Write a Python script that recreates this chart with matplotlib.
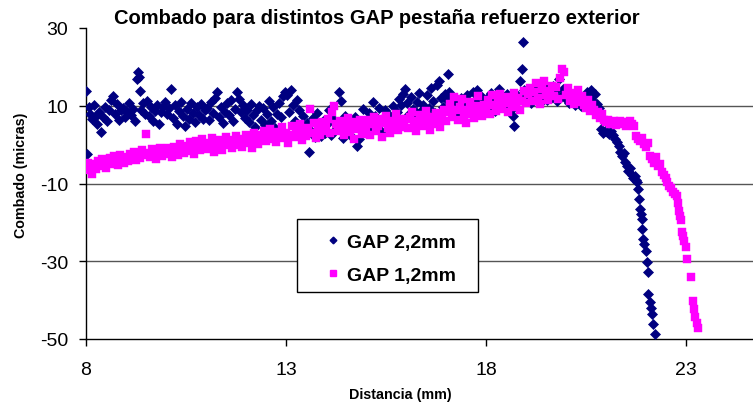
import matplotlib
matplotlib.use("Agg")
import matplotlib.pyplot as plt
from matplotlib.lines import Line2D
from matplotlib.patches import Rectangle

plt.rcParams['font.family'] = ['Liberation Sans', 'DejaVu Sans']

title = "Combado para distintos GAP pestaña refuerzo exterior"
xlabel = "Distancia (mm)"
ylabel = "Combado (micras)"
series_names = ["GAP 2,2mm", "GAP 1,2mm"]
xticks = [8, 13, 18, 23]
yticks = [-50, -30, -10, 10, 30]

# GAP 2,2mm (navy diamonds)
gap22_x = [
    8.00, 8.03, 8.07, 8.11, 8.15, 8.19, 8.23, 8.28, 8.33, 8.38, 8.43, 8.48, 8.53, 8.58, 8.63, 8.68, 8.73, 8.78, 8.83, 8.88, 8.93, 8.98,
    9.03, 9.08, 9.13, 9.18, 9.23, 9.28, 9.30, 9.32, 9.35, 9.38, 9.43, 9.48, 9.53, 9.58, 9.63, 9.68, 9.73, 9.78, 9.83, 9.88, 9.93, 9.98,
    10.03, 10.08, 10.13, 10.18, 10.23, 10.28, 10.33, 10.38, 10.43, 10.48, 10.53, 10.58, 10.63, 10.68, 10.73, 10.78, 10.83, 10.88, 10.93, 10.98,
    11.03, 11.08, 11.13, 11.18, 11.23, 11.28, 11.33, 11.38, 11.43, 11.48, 11.53, 11.58, 11.63, 11.68, 11.73, 11.78, 11.83, 11.88, 11.93, 11.98,
    12.03, 12.08, 12.13, 12.18, 12.23, 12.28, 12.33, 12.38, 12.43, 12.48, 12.53, 12.58, 12.63, 12.68, 12.73, 12.78, 12.83, 12.88, 12.93, 12.98,
    13.03, 13.08, 13.13, 13.18, 13.23, 13.28, 13.33, 13.38, 13.43, 13.48, 13.53, 13.58, 13.63, 13.68, 13.73, 13.78, 13.83, 13.88, 13.93, 13.98,
    14.03, 14.08, 14.13, 14.18, 14.23, 14.28, 14.33, 14.38, 14.43, 14.48, 14.53, 14.58, 14.63, 14.68, 14.73, 14.78, 14.83, 14.88, 14.93, 14.98,
    15.03, 15.08, 15.13, 15.18, 15.23, 15.28, 15.33, 15.38, 15.43, 15.48, 15.53, 15.58, 15.63, 15.68, 15.73, 15.78, 15.83, 15.88, 15.93, 15.98,
    16.03, 16.08, 16.13, 16.18, 16.23, 16.28, 16.33, 16.38, 16.43, 16.48, 16.53, 16.58, 16.63, 16.68, 16.73, 16.78, 16.83, 16.88, 16.93, 16.98,
    17.03, 17.05, 17.08, 17.13, 17.18, 17.23, 17.28, 17.33, 17.38, 17.43, 17.48, 17.53, 17.58, 17.63, 17.68, 17.73, 17.78, 17.83, 17.88, 17.93, 17.98,
    18.03, 18.08, 18.13, 18.18, 18.23, 18.28, 18.33, 18.38, 18.43, 18.48, 18.53, 18.58, 18.63, 18.68, 18.70, 18.73, 18.78, 18.83, 18.86, 18.89, 18.92, 18.95, 18.98,
    19.03, 19.08, 19.13, 19.18, 19.23, 19.28, 19.33, 19.38, 19.43, 19.48, 19.53, 19.58, 19.63, 19.68, 19.73, 19.78, 19.83, 19.88, 19.93, 19.98,
    20.03, 20.08, 20.13, 20.18, 20.23, 20.28, 20.33, 20.38, 20.43, 20.48, 20.53, 20.58, 20.63, 20.68, 20.73, 20.78, 20.83, 20.88, 20.93, 20.98,
    21.03, 21.08, 21.13, 21.18, 21.23, 21.28, 21.32, 21.36, 21.40, 21.44, 21.48, 21.52, 21.56, 21.60, 21.64, 21.68, 21.72, 21.76, 21.78, 21.81,
    21.83, 21.85, 21.88, 21.90, 21.91, 21.93, 21.96, 22.00, 22.03, 22.05, 22.06, 22.10, 22.13, 22.15, 22.18, 22.23,
]
gap22_y = [
    13.8, -2.4, 9.8, 8.0, 6.5, 10.2, 7.2, 5.3, 8.4, 3.2, 7.0, 9.6, 6.1, 8.8, 11.5, 12.6, 7.8, 10.5, 6.3, 8.9, 9.5, 7.1,
    8.5, 10.8, 7.6, 9.2, 6.0, 16.9, 18.7, 17.5, 13.8, 9.0, 10.6, 8.0, 11.2, 7.4, 9.8, 6.2, 8.7, 10.1, 5.4, 8.3, 9.6, 11.0,
    7.9, 9.4, 14.3, 6.8, 10.3, 5.2, 8.6, 11.0, 7.3, 4.9, 9.1, 6.7, 10.8, 8.2, 5.9, 9.7, 7.5, 10.4, 6.6, 8.9,
    9.5, 6.3, 10.9, 8.1, 12.0, 13.5, 7.0, 9.8, 5.6, 8.5, 10.6, 7.7, 11.4, 6.0, 9.2, 13.5, 11.7, 8.4, 10.2, 6.9,
    9.0, 5.8, 10.5, 7.6, 4.6, 8.9, 10.0, 6.4, 9.3, 5.0, 7.8, 11.1, 6.1, 9.6, 4.2, 8.0, 10.7, 7.2, 12.4, 13.5,
    12.8, 8.5, 14.0, 10.3, 6.2, 11.6, 9.0, 4.4, 7.3, 2.8, 5.6, -2.0, 3.5, 6.9, 1.9, 8.1, 4.7, 2.3, 6.0, 3.1,
    5.2, 8.9, 2.6, 6.5, 3.8, 4.9, 13.5, 11.2, 1.7, 7.4, 3.0, 5.8, 2.1, 6.3, 7.1, -0.3, 1.5, 4.3, 9.2, 3.4,
    6.0, 8.2, 4.5, 11.0, 7.3, 5.1, 9.4, 3.6, 6.8, 8.9, 5.5, 7.7, 4.0, 9.9, 6.4, 8.5, 11.8, 10.3, 13.0, 14.3,
    10.8, 8.0, 12.2, 9.1, 7.5, 11.0, 13.2, 8.6, 10.1, 6.9, 12.7, 9.5, 14.6, 11.3, 8.2, 15.4, 16.4, 12.0, 9.8, 13.1,
    11.4, 18.2, 13.6, 9.0, 12.3, 7.8, 10.6, 8.4, 11.9, 6.7, 9.7, 12.8, 10.2, 7.9, 13.5, 11.1, 14.0, 9.3, 12.6, 10.4, 8.8,
    12.1, 9.6, 13.4, 10.8, 8.7, 11.7, 14.2, 10.0, 12.5, 9.3, 13.0, 11.3, 8.9, 7.4, 4.8, 10.6, 12.8, 11.5, 16.4, 19.5, 26.4, 14.0, 12.0,
    11.2, 13.5, 10.6, 12.4, 14.1, 11.8, 13.0, 10.9, 12.7, 14.8, 11.5, 13.2, 12.0, 15.1, 13.7, 11.1, 16.9, 12.6, 14.4, 11.9,
    13.3, 10.8, 12.2, 11.0, 10.2, 12.6, 11.4, 10.0, 11.9, 12.8, 13.6, 12.4, 14.0, 11.3, 12.9, 10.5, 9.5, 4.0, 3.0, 3.6,
    3.2, 2.8, 3.6, 2.5, 1.4, 0.6, -0.4, -1.8, -3.0, -2.2, -4.5, -5.5, -6.8, -6.1, -7.7, -8.6, -8.0, -9.2, -9.6, -11.5,
    -14.0, -16.6, -17.8, -19.1, -21.7, -24.3, -25.6, -27.4, -30.2, -32.8, -38.4, -40.5, -42.1, -43.6, -46.1, -48.7,
]

# GAP 1,2mm (magenta squares)
gap12_x = [
    8.00, 8.05, 8.10, 8.15, 8.20, 8.25, 8.30, 8.35, 8.40, 8.45, 8.50, 8.55, 8.60, 8.65, 8.70, 8.75, 8.80, 8.85, 8.90, 8.95,
    9.00, 9.05, 9.10, 9.15, 9.20, 9.25, 9.30, 9.35, 9.40, 9.45, 9.50, 9.55, 9.60, 9.65, 9.70, 9.75, 9.80, 9.85, 9.90, 9.95,
    10.00, 10.05, 10.10, 10.15, 10.20, 10.25, 10.30, 10.35, 10.40, 10.45, 10.50, 10.55, 10.60, 10.65, 10.70, 10.75, 10.80, 10.85, 10.90, 10.95,
    11.00, 11.05, 11.10, 11.15, 11.20, 11.25, 11.30, 11.35, 11.40, 11.45, 11.50, 11.55, 11.60, 11.65, 11.70, 11.75, 11.80, 11.85, 11.90, 11.95,
    12.00, 12.05, 12.10, 12.15, 12.20, 12.25, 12.30, 12.35, 12.40, 12.45, 12.50, 12.55, 12.60, 12.65, 12.70, 12.75, 12.80, 12.85, 12.90, 12.95,
    13.00, 13.05, 13.10, 13.15, 13.20, 13.25, 13.30, 13.35, 13.40, 13.45, 13.50, 13.55, 13.60, 13.65, 13.70, 13.75, 13.80, 13.85, 13.90, 13.95,
    14.00, 14.05, 14.10, 14.15, 14.20, 14.25, 14.30, 14.35, 14.40, 14.45, 14.50, 14.55, 14.60, 14.65, 14.70, 14.75, 14.80, 14.85, 14.90, 14.95,
    15.00, 15.05, 15.10, 15.15, 15.20, 15.25, 15.30, 15.35, 15.40, 15.45, 15.50, 15.55, 15.60, 15.65, 15.70, 15.75, 15.80, 15.85, 15.90, 15.95,
    16.00, 16.05, 16.10, 16.15, 16.20, 16.25, 16.30, 16.35, 16.40, 16.45, 16.50, 16.55, 16.60, 16.65, 16.70, 16.75, 16.80, 16.85, 16.90, 16.95,
    17.00, 17.05, 17.10, 17.15, 17.20, 17.25, 17.30, 17.35, 17.40, 17.45, 17.50, 17.55, 17.60, 17.65, 17.70, 17.75, 17.80, 17.85, 17.90, 17.95,
    18.00, 18.05, 18.10, 18.15, 18.20, 18.25, 18.30, 18.35, 18.40, 18.45, 18.50, 18.55, 18.60, 18.65, 18.70, 18.75, 18.80, 18.85, 18.90, 18.95,
    19.00, 19.05, 19.10, 19.15, 19.20, 19.25, 19.30, 19.35, 19.40, 19.45, 19.50, 19.55, 19.60, 19.65, 19.70, 19.75, 19.80, 19.85, 19.90, 19.95,
    20.00, 20.05, 20.10, 20.15, 20.20, 20.25, 20.30, 20.35, 20.40, 20.45, 20.50, 20.55, 20.60, 20.65, 20.70, 20.75, 20.80, 20.85, 20.90, 20.95,
    21.00, 21.05, 21.10, 21.15, 21.20, 21.25, 21.30, 21.35, 21.40, 21.45, 21.50, 21.55, 21.60, 21.65, 21.70, 21.75, 21.80, 21.85, 21.90, 21.95,
    22.00, 22.05, 22.10, 22.15, 22.20, 22.25, 22.30, 22.35, 22.40, 22.45, 22.50,
    22.53, 22.58, 22.63, 22.68, 22.73, 22.78, 22.81, 22.83, 22.86, 22.88, 22.90, 22.93, 22.96, 23.00, 23.03,
    23.13, 23.18, 23.20, 23.23, 23.27, 23.30,
]
gap12_y = [
    -5.8, -4.6, -6.5, -7.5, -5.0, -6.2, -4.2, -5.6, -3.8, -5.2, -6.0, -4.4, -3.5, -4.9, -3.0, -4.1, -5.3, -2.6, -3.9, -4.6,
    -3.1, -4.3, -2.4, -3.6, -1.9, -4.0, -2.8, -3.4, -1.5, -2.7, 2.7, -2.2, -3.3, -1.2, -2.5, -3.6, -1.8, -0.9, -2.9, -1.6,
    -2.3, -0.8, -1.9, -3.1, -0.5, -1.4, -2.6, 0.2, -1.1, -2.2, -0.3, -1.7, 0.6, -0.9, -2.4, 0.9, -0.6, -1.5, 1.4, -0.2,
    -1.2, 0.3, -0.7, 1.6, -1.9, 0.8, -0.4, 1.1, -1.3, 0.5, 2.0, -0.2, 1.3, -0.9, 0.7, 2.3, 0.0, 1.5, -0.6, 1.0,
    2.4, 0.4, 1.7, -0.8, 3.0, 1.2, 0.1, 2.6, 1.6, 3.5, 0.9, 2.2, 4.1, 1.4, 2.9, 0.6, 3.3, 2.0, 4.6, 1.8,
    3.1, 0.5, 2.4, 4.8, 1.9, 3.6, 2.7, 5.2, 1.2, 3.9, 2.3, 4.4, 9.2, 3.0, 5.5, 1.6, 4.1, 2.6, 5.9, 3.4,
    4.6, 6.6, 2.9, 8.4, 10.0, 5.4, 3.6, 6.1, 4.2, 2.5, 5.0, 6.8, 3.3, 4.7, 1.4, 5.8, 3.9, 6.4, 2.8, 5.1,
    4.0, 6.3, 2.6, 5.4, 7.0, 3.5, 4.8, 6.6, 2.0, 5.6, 7.4, 4.3, 3.0, 6.0, 5.0, 7.9, 3.8, 6.7, 4.6, 5.9,
    6.5, 4.4, 7.2, 8.4, 5.3, 3.4, 6.1, 7.7, 4.9, 6.8, 8.6, 5.6, 3.8, 7.0, 5.2, 8.1, 6.3, 4.5, 7.5, 9.0,
    6.0, 8.3, 10.5, 7.1, 12.3, 8.9, 6.4, 9.6, 11.8, 7.6, 5.5, 9.0, 10.9, 8.0, 6.9, 9.9, 12.5, 8.5, 7.3, 10.2,
    9.4, 11.6, 7.9, 12.8, 10.3, 8.6, 11.0, 13.0, 9.2, 10.7, 12.2, 8.3, 11.4, 9.8, 13.4, 10.1, 12.0, 9.0, 11.2, 13.8,
    10.6, 12.9, 14.5, 11.3, 13.6, 15.8, 12.1, 10.4, 14.2, 16.3, 12.7, 11.5, 13.9, 15.2, 12.4, 14.8, 11.8, 17.2, 19.5, 18.6,
    12.8, 14.6, 11.2, 13.3, 10.4, 12.0, 14.0, 11.0, 12.6, 10.1, 9.5, 11.4, 8.6, 10.2, 9.0, 7.6, 8.3, 6.9, 7.8, 6.4,
    5.9, 6.4, 5.3, 5.8, 6.2, 5.0, 5.6, 6.0, 5.2, 5.7, 4.9, 5.5, 6.1, 5.4, 4.8, 2.2, 1.5, 0.9, 1.8, 0.2,
    -0.6, 0.4, -3.0, -3.8, -4.6, -3.3, -5.5, -4.9, -7.0, -7.8, -8.6,
    -9.6, -10.6, -11.2, -12.2, -12.8, -13.2, -15.0, -17.1, -18.4, -19.5, -22.5, -23.5, -24.8, -26.3, -29.4,
    -34.0, -40.2, -42.3, -44.3, -45.8, -47.2,
]

navy = "#000080"
magenta = "#FF00FF"

fig = plt.figure(figsize=(7.53, 4.06), dpi=100)
ax = fig.add_axes([86/753, 1 - 340/406, 667/753, 311/406])

ax.plot(gap22_x, gap22_y, linestyle="none", marker="D", markersize=5.2,
        color=navy, markeredgecolor=navy, markeredgewidth=0.5, zorder=3)
ax.plot(gap12_x, gap12_y, linestyle="none", marker="s", markersize=6.0,
        color=magenta, markeredgecolor=magenta, markeredgewidth=0.3, zorder=3.1)

ax.set_xlim(8, 8 + 667/40)
ax.set_ylim(-50, 30)
ax.set_xticks(xticks)
ax.set_yticks(yticks)
ax.set_xticklabels([str(v) for v in xticks])
ax.set_yticklabels([str(v) for v in yticks])

for v in yticks:
    if -50 < v < 30:
        ax.axhline(v, color="#555555", linewidth=1.0, zorder=1)

for s in ["top", "right"]:
    ax.spines[s].set_visible(False)
for s in ["left", "bottom"]:
    ax.spines[s].set_color("black")
    ax.spines[s].set_linewidth(1.0)

ax.tick_params(axis="x", direction="out", length=5, width=1, pad=11, labelsize=14)
ax.tick_params(axis="y", direction="out", length=5, width=1, pad=8, labelsize=14)

fig.text(377/753, 1 - 18/406, title, ha="center", va="center", fontsize=14.5, fontweight="bold")
fig.text(21/753, 1 - 175/406, ylabel, ha="center", va="center", rotation=90, fontsize=10.3, fontweight="bold")
fig.text(400/753, 1 - 395/406, xlabel, ha="center", va="center", fontsize=10.3, fontweight="bold")

# legend box
ax.add_patch(Rectangle(((297-86)/667, (340-293)/311), (478-297)/667, (293-220)/311,
                       transform=ax.transAxes, facecolor="white", edgecolor="black",
                       linewidth=1.0, zorder=5, clip_on=False))
handles = [
    Line2D([], [], linestyle="none", marker="D", markersize=3.4, color=navy),
    Line2D([], [], linestyle="none", marker="s", markersize=4.4, color=magenta),
]
leg = ax.legend(handles, series_names, loc="center left",
                bbox_to_anchor=((323-86)/667, (340-259.5)/311),
                frameon=False, borderpad=0, borderaxespad=0, handlelength=1.0,
                handletextpad=0.25, labelspacing=0.8,
                prop={"size": 14, "weight": "bold"})
leg.set_zorder(6)

fig.savefig("out.png", dpi=100)
